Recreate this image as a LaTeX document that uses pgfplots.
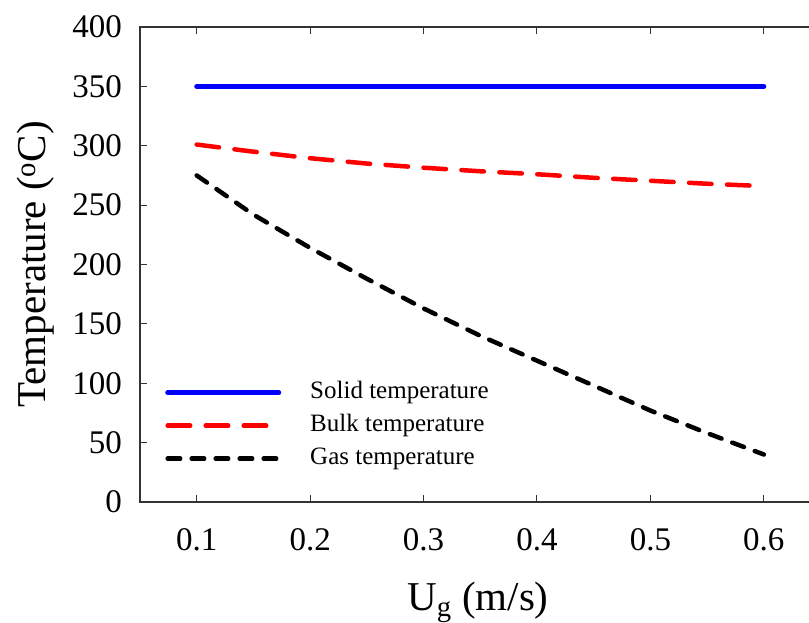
\documentclass[border=0pt]{standalone}
\usepackage{pgfplots}
\pgfplotsset{compat=1.18}
\usepackage{pgfplotstable}
\usepackage{fontspec}
\setmainfont{Liberation Serif}

% Temperatures (degC) against superficial gas velocity Ug (m/s)
\pgfplotstableread{
u    T
0.1  350
0.6  350
}\solid
\pgfplotstableread{
u     T
0.10  301
0.15  295
0.20  289.5
0.25  285
0.30  281.5
0.35  278.5
0.40  276
0.45  273
0.50  270.5
0.55  268
0.60  266
}\bulk
\pgfplotstableread{
u     T
0.10  275
0.15  242
0.20  214
0.25  188
0.30  163
0.35  140
0.40  119
0.45  98
0.50  77
0.55  58
0.60  40
}\gas

\begin{document}
\begin{tikzpicture}
\begin{axis}[
  name=ax, at={(0,0)}, anchor=south west,
  scale only axis, width=676pt, height=475pt,
  xmin=0.05, xmax=0.646, ymin=0, ymax=400,
  xtick={0.1,0.2,0.3,0.4,0.5,0.6},
  ytick={0,50,100,150,200,250,300,350,400},
  tick align=inside,
  major tick length=7pt,
  every tick/.style={black!80, line width=1pt},
  axis line style={black!80, line width=1.3pt},
  /pgf/number format/assume math mode=true,
  /pgf/number format/fixed,
  tick label style={font=\fontsize{33}{33}\selectfont},
  xticklabel style={anchor=north, inner sep=0pt, yshift=-26pt},
  yticklabel style={anchor=east, inner sep=0pt, xshift=-18pt},
  xlabel={U\textsubscript{g} (m/s)},
  ylabel={Temperature (\textsuperscript{o}C)},
  every axis x label/.style={at={(rel axis cs:0.5,-0.2274)}, anchor=base,
    font=\fontsize{41}{41}\selectfont},
  every axis y label/.style={at={(rel axis cs:-0.1405,0.5)}, anchor=base,
    rotate=90, font=\fontsize{41}{41}\selectfont},
  legend image code/.code={\draw[#1] (0pt,0pt) -- (111pt,0pt);},
  legend cell align=left,
  legend style={draw=none, fill=none, inner sep=0pt,
    at={(rel axis cs:0.037,0.2537)}, anchor=north west,
    font=\fontsize{25}{25}\selectfont,
    row sep=11pt,
    nodes={inner sep=0pt, text height=17pt, text depth=5pt},
    /tikz/every odd column/.append style={column sep=29pt}},
]
\addplot[blue, line width=5pt, line cap=round] table[x=u, y=T] {\solid};
\addlegendentry{Solid temperature}
\addplot[red, line width=4.5pt, line cap=round, dash pattern=on 22.5pt off 15.5pt] table[x=u, y=T] {\bulk};
\addlegendentry{Bulk temperature}
\addplot[black, line width=4.5pt, line cap=round, dash pattern=on 12.5pt off 11.5pt] table[x=u, y=T] {\gas};
\addlegendentry{Gas temperature}
\end{axis}
\pgfresetboundingbox
\useasboundingbox (-140pt,-121pt) rectangle (669pt,502pt);
\end{tikzpicture}
\end{document}
